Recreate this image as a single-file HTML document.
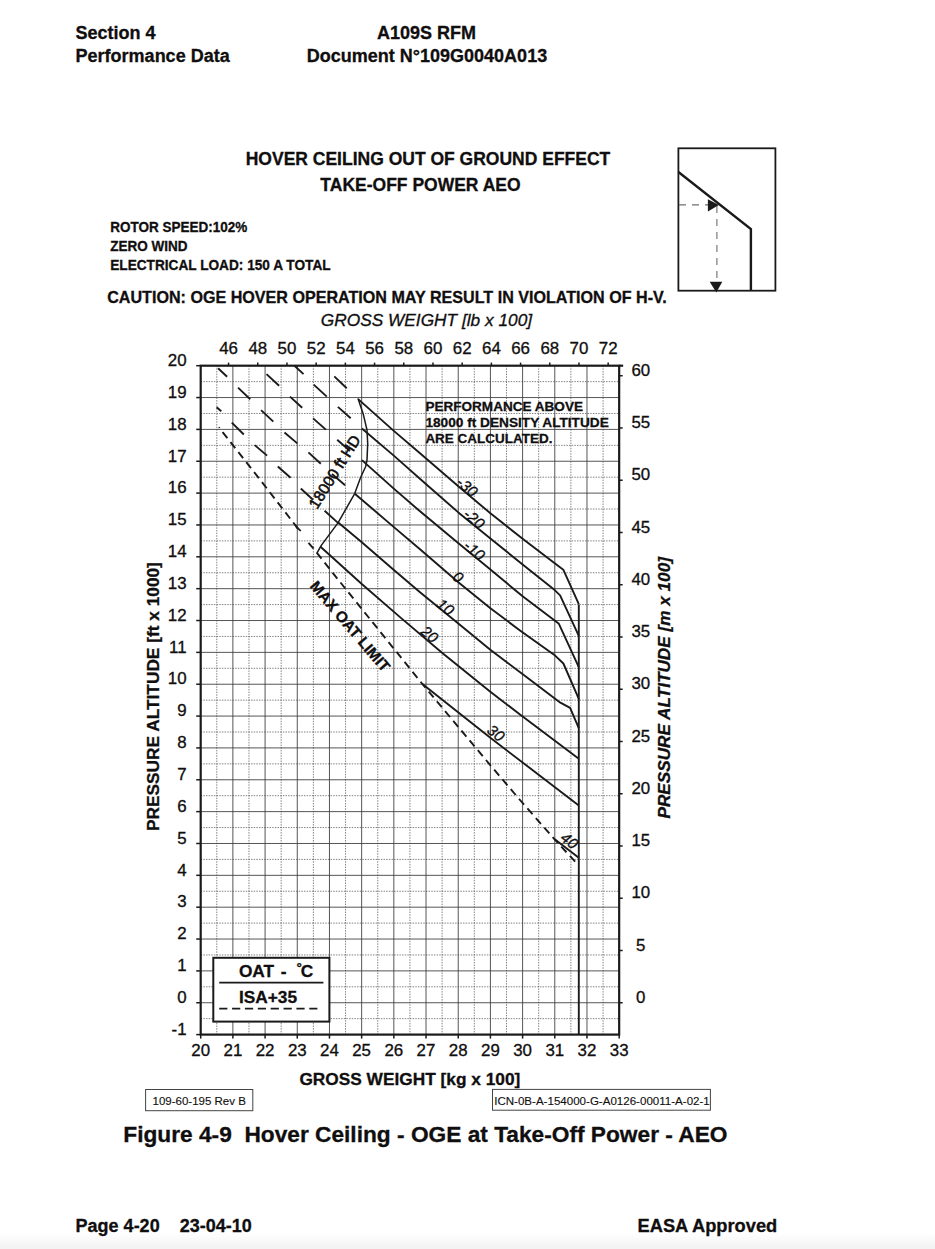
<!DOCTYPE html>
<html lang="en"><head><meta charset="utf-8"><title>Figure 4-9 Hover Ceiling - OGE at Take-Off Power - AEO</title>
<style>
html,body{margin:0;padding:0;background:#fff;}
svg{display:block;}
text{font-family:"Liberation Sans", Arial, Helvetica, sans-serif;fill:#100e0e;stroke:#100e0e;stroke-width:0.3px;}
.mn{stroke:#555;stroke-width:0.75;stroke-dasharray:1.45 1.2;}
.mj{stroke:#383838;stroke-width:0.85;}
.tk{stroke:#1a1a1a;stroke-width:1.5;}
.fr{fill:none;stroke:#1a1a1a;stroke-width:2.2;}
.cv{fill:none;stroke:#1a1a1a;stroke-width:1.9;stroke-linejoin:round;}
.sd{fill:none;stroke:#1a1a1a;stroke-width:1.9;stroke-dasharray:7.7 5.05;}
.ax{font-size:16px;stroke-width:0.3px;}
.lab{font-size:15.2px;font-style:italic;stroke-width:0.3px;}
.hd{font-size:15.6px;stroke-width:0.55px;}
.moat{font-size:15.3px;font-weight:bold;}
.note{font-size:13.55px;font-weight:bold;}
.leg{font-size:17.3px;font-weight:bold;}
.ti{font-size:17.3px;font-style:italic;}
.tb{font-size:17.3px;font-weight:bold;}
.tbi{font-size:17.18px;font-weight:bold;font-style:italic;}
.hdr{font-size:18px;font-weight:bold;}
.ttl{font-size:17.5px;font-weight:bold;}
.sm{font-size:14.3px;font-weight:bold;}
.cau{font-size:16.1px;font-weight:bold;}
.ref{font-size:11.5px;stroke-width:0.12px;}
.fig{font-size:22.6px;font-weight:bold;}
</style></head>
<body>
<svg width="935" height="1249" viewBox="0 0 935 1249">
<defs><linearGradient id="bg" x1="0" y1="0" x2="0" y2="1"><stop offset="0" stop-color="#fff"/><stop offset="1" stop-color="#f2f2f2"/></linearGradient></defs>
<rect width="935" height="1249" fill="#fff"/>
<rect x="0" y="1233" width="935" height="16" fill="url(#bg)"/>
<g id="grid"><line x1="216.79" y1="365.70" x2="216.79" y2="1034.59" class="mn"/>
<line x1="248.98" y1="365.70" x2="248.98" y2="1034.59" class="mn"/>
<line x1="281.17" y1="365.70" x2="281.17" y2="1034.59" class="mn"/>
<line x1="313.37" y1="365.70" x2="313.37" y2="1034.59" class="mn"/>
<line x1="345.55" y1="365.70" x2="345.55" y2="1034.59" class="mn"/>
<line x1="377.75" y1="365.70" x2="377.75" y2="1034.59" class="mn"/>
<line x1="409.93" y1="365.70" x2="409.93" y2="1034.59" class="mn"/>
<line x1="442.12" y1="365.70" x2="442.12" y2="1034.59" class="mn"/>
<line x1="474.31" y1="365.70" x2="474.31" y2="1034.59" class="mn"/>
<line x1="506.50" y1="365.70" x2="506.50" y2="1034.59" class="mn"/>
<line x1="538.69" y1="365.70" x2="538.69" y2="1034.59" class="mn"/>
<line x1="570.88" y1="365.70" x2="570.88" y2="1034.59" class="mn"/>
<line x1="603.08" y1="365.70" x2="603.08" y2="1034.59" class="mn"/>
<line x1="200.70" y1="381.63" x2="619.17" y2="381.63" class="mn"/>
<line x1="200.70" y1="413.48" x2="619.17" y2="413.48" class="mn"/>
<line x1="200.70" y1="445.33" x2="619.17" y2="445.33" class="mn"/>
<line x1="200.70" y1="477.18" x2="619.17" y2="477.18" class="mn"/>
<line x1="200.70" y1="509.03" x2="619.17" y2="509.03" class="mn"/>
<line x1="200.70" y1="540.89" x2="619.17" y2="540.89" class="mn"/>
<line x1="200.70" y1="572.74" x2="619.17" y2="572.74" class="mn"/>
<line x1="200.70" y1="604.59" x2="619.17" y2="604.59" class="mn"/>
<line x1="200.70" y1="636.44" x2="619.17" y2="636.44" class="mn"/>
<line x1="200.70" y1="668.29" x2="619.17" y2="668.29" class="mn"/>
<line x1="200.70" y1="700.15" x2="619.17" y2="700.15" class="mn"/>
<line x1="200.70" y1="732.00" x2="619.17" y2="732.00" class="mn"/>
<line x1="200.70" y1="763.85" x2="619.17" y2="763.85" class="mn"/>
<line x1="200.70" y1="795.70" x2="619.17" y2="795.70" class="mn"/>
<line x1="200.70" y1="827.55" x2="619.17" y2="827.55" class="mn"/>
<line x1="200.70" y1="859.41" x2="619.17" y2="859.41" class="mn"/>
<line x1="200.70" y1="891.26" x2="619.17" y2="891.26" class="mn"/>
<line x1="200.70" y1="923.11" x2="619.17" y2="923.11" class="mn"/>
<line x1="200.70" y1="954.96" x2="619.17" y2="954.96" class="mn"/>
<line x1="200.70" y1="986.81" x2="619.17" y2="986.81" class="mn"/>
<line x1="200.70" y1="1018.67" x2="619.17" y2="1018.67" class="mn"/>
<line x1="232.89" y1="365.70" x2="232.89" y2="1034.59" class="mj"/>
<line x1="265.08" y1="365.70" x2="265.08" y2="1034.59" class="mj"/>
<line x1="297.27" y1="365.70" x2="297.27" y2="1034.59" class="mj"/>
<line x1="329.46" y1="365.70" x2="329.46" y2="1034.59" class="mj"/>
<line x1="361.65" y1="365.70" x2="361.65" y2="1034.59" class="mj"/>
<line x1="393.84" y1="365.70" x2="393.84" y2="1034.59" class="mj"/>
<line x1="426.03" y1="365.70" x2="426.03" y2="1034.59" class="mj"/>
<line x1="458.22" y1="365.70" x2="458.22" y2="1034.59" class="mj"/>
<line x1="490.41" y1="365.70" x2="490.41" y2="1034.59" class="mj"/>
<line x1="522.60" y1="365.70" x2="522.60" y2="1034.59" class="mj"/>
<line x1="554.79" y1="365.70" x2="554.79" y2="1034.59" class="mj"/>
<line x1="586.98" y1="365.70" x2="586.98" y2="1034.59" class="mj"/>
<line x1="200.70" y1="397.55" x2="619.17" y2="397.55" class="mj"/>
<line x1="200.70" y1="429.40" x2="619.17" y2="429.40" class="mj"/>
<line x1="200.70" y1="461.26" x2="619.17" y2="461.26" class="mj"/>
<line x1="200.70" y1="493.11" x2="619.17" y2="493.11" class="mj"/>
<line x1="200.70" y1="524.96" x2="619.17" y2="524.96" class="mj"/>
<line x1="200.70" y1="556.81" x2="619.17" y2="556.81" class="mj"/>
<line x1="200.70" y1="588.66" x2="619.17" y2="588.66" class="mj"/>
<line x1="200.70" y1="620.52" x2="619.17" y2="620.52" class="mj"/>
<line x1="200.70" y1="652.37" x2="619.17" y2="652.37" class="mj"/>
<line x1="200.70" y1="684.22" x2="619.17" y2="684.22" class="mj"/>
<line x1="200.70" y1="716.07" x2="619.17" y2="716.07" class="mj"/>
<line x1="200.70" y1="747.92" x2="619.17" y2="747.92" class="mj"/>
<line x1="200.70" y1="779.78" x2="619.17" y2="779.78" class="mj"/>
<line x1="200.70" y1="811.63" x2="619.17" y2="811.63" class="mj"/>
<line x1="200.70" y1="843.48" x2="619.17" y2="843.48" class="mj"/>
<line x1="200.70" y1="875.33" x2="619.17" y2="875.33" class="mj"/>
<line x1="200.70" y1="907.18" x2="619.17" y2="907.18" class="mj"/>
<line x1="200.70" y1="939.04" x2="619.17" y2="939.04" class="mj"/>
<line x1="200.70" y1="970.89" x2="619.17" y2="970.89" class="mj"/>
<line x1="200.70" y1="1002.74" x2="619.17" y2="1002.74" class="mj"/></g>
<g id="ticks"><line x1="196.20" y1="365.70" x2="200.70" y2="365.70" class="tk"/>
<line x1="196.20" y1="397.55" x2="200.70" y2="397.55" class="tk"/>
<line x1="196.20" y1="429.40" x2="200.70" y2="429.40" class="tk"/>
<line x1="196.20" y1="461.26" x2="200.70" y2="461.26" class="tk"/>
<line x1="196.20" y1="493.11" x2="200.70" y2="493.11" class="tk"/>
<line x1="196.20" y1="524.96" x2="200.70" y2="524.96" class="tk"/>
<line x1="196.20" y1="556.81" x2="200.70" y2="556.81" class="tk"/>
<line x1="196.20" y1="588.66" x2="200.70" y2="588.66" class="tk"/>
<line x1="196.20" y1="620.52" x2="200.70" y2="620.52" class="tk"/>
<line x1="196.20" y1="652.37" x2="200.70" y2="652.37" class="tk"/>
<line x1="196.20" y1="684.22" x2="200.70" y2="684.22" class="tk"/>
<line x1="196.20" y1="716.07" x2="200.70" y2="716.07" class="tk"/>
<line x1="196.20" y1="747.92" x2="200.70" y2="747.92" class="tk"/>
<line x1="196.20" y1="779.78" x2="200.70" y2="779.78" class="tk"/>
<line x1="196.20" y1="811.63" x2="200.70" y2="811.63" class="tk"/>
<line x1="196.20" y1="843.48" x2="200.70" y2="843.48" class="tk"/>
<line x1="196.20" y1="875.33" x2="200.70" y2="875.33" class="tk"/>
<line x1="196.20" y1="907.18" x2="200.70" y2="907.18" class="tk"/>
<line x1="196.20" y1="939.04" x2="200.70" y2="939.04" class="tk"/>
<line x1="196.20" y1="970.89" x2="200.70" y2="970.89" class="tk"/>
<line x1="196.20" y1="1002.74" x2="200.70" y2="1002.74" class="tk"/>
<line x1="196.20" y1="1034.59" x2="200.70" y2="1034.59" class="tk"/>
<line x1="200.70" y1="1034.59" x2="200.70" y2="1038.59" class="tk"/>
<line x1="232.89" y1="1034.59" x2="232.89" y2="1038.59" class="tk"/>
<line x1="265.08" y1="1034.59" x2="265.08" y2="1038.59" class="tk"/>
<line x1="297.27" y1="1034.59" x2="297.27" y2="1038.59" class="tk"/>
<line x1="329.46" y1="1034.59" x2="329.46" y2="1038.59" class="tk"/>
<line x1="361.65" y1="1034.59" x2="361.65" y2="1038.59" class="tk"/>
<line x1="393.84" y1="1034.59" x2="393.84" y2="1038.59" class="tk"/>
<line x1="426.03" y1="1034.59" x2="426.03" y2="1038.59" class="tk"/>
<line x1="458.22" y1="1034.59" x2="458.22" y2="1038.59" class="tk"/>
<line x1="490.41" y1="1034.59" x2="490.41" y2="1038.59" class="tk"/>
<line x1="522.60" y1="1034.59" x2="522.60" y2="1038.59" class="tk"/>
<line x1="554.79" y1="1034.59" x2="554.79" y2="1038.59" class="tk"/>
<line x1="586.98" y1="1034.59" x2="586.98" y2="1038.59" class="tk"/>
<line x1="619.17" y1="1034.59" x2="619.17" y2="1038.59" class="tk"/>
<line x1="228.55" y1="362.60" x2="228.55" y2="365.70" class="tk"/>
<line x1="257.75" y1="362.60" x2="257.75" y2="365.70" class="tk"/>
<line x1="286.96" y1="362.60" x2="286.96" y2="365.70" class="tk"/>
<line x1="316.16" y1="362.60" x2="316.16" y2="365.70" class="tk"/>
<line x1="345.36" y1="362.60" x2="345.36" y2="365.70" class="tk"/>
<line x1="374.56" y1="362.60" x2="374.56" y2="365.70" class="tk"/>
<line x1="403.77" y1="362.60" x2="403.77" y2="365.70" class="tk"/>
<line x1="432.97" y1="362.60" x2="432.97" y2="365.70" class="tk"/>
<line x1="462.17" y1="362.60" x2="462.17" y2="365.70" class="tk"/>
<line x1="491.37" y1="362.60" x2="491.37" y2="365.70" class="tk"/>
<line x1="520.58" y1="362.60" x2="520.58" y2="365.70" class="tk"/>
<line x1="549.78" y1="362.60" x2="549.78" y2="365.70" class="tk"/>
<line x1="578.98" y1="362.60" x2="578.98" y2="365.70" class="tk"/>
<line x1="608.18" y1="362.60" x2="608.18" y2="365.70" class="tk"/>
<line x1="619.17" y1="1002.74" x2="622.67" y2="1002.74" class="tk"/>
<line x1="619.17" y1="950.49" x2="622.67" y2="950.49" class="tk"/>
<line x1="619.17" y1="898.24" x2="622.67" y2="898.24" class="tk"/>
<line x1="619.17" y1="845.99" x2="622.67" y2="845.99" class="tk"/>
<line x1="619.17" y1="793.74" x2="622.67" y2="793.74" class="tk"/>
<line x1="619.17" y1="741.49" x2="622.67" y2="741.49" class="tk"/>
<line x1="619.17" y1="689.24" x2="622.67" y2="689.24" class="tk"/>
<line x1="619.17" y1="636.99" x2="622.67" y2="636.99" class="tk"/>
<line x1="619.17" y1="584.73" x2="622.67" y2="584.73" class="tk"/>
<line x1="619.17" y1="532.48" x2="622.67" y2="532.48" class="tk"/>
<line x1="619.17" y1="480.23" x2="622.67" y2="480.23" class="tk"/>
<line x1="619.17" y1="427.98" x2="622.67" y2="427.98" class="tk"/>
<line x1="619.17" y1="375.73" x2="622.67" y2="375.73" class="tk"/>
<line x1="619.17" y1="365.70" x2="623.17" y2="365.70" class="tk" style="stroke-width:2.2"/></g>
<polyline points="219.0,427.2 222.8,432.3 258.8,478.1 290.5,519.0 300.8,532.3" class="sd" stroke-dashoffset="6.7"/>
<polyline points="308.5,542.8 313.6,548.6 337.4,578.7 422.4,684.0 490.0,764.8 520.0,800.0 554.4,839.1 577.6,864.3" class="sd"/>
<polygon points="293.6,522.6 301.4,530.6 300.2,531.6 296.0,528.0" fill="#1a1a1a"/>
<line x1="216.6" y1="407.2" x2="221.3" y2="411.3" class="cv"/>
<line x1="231.8" y1="422.6" x2="243.8" y2="434.5" class="cv"/>
<line x1="254.7" y1="445.1" x2="267.1" y2="455.6" class="cv"/>
<line x1="277.8" y1="466.5" x2="290.6" y2="477.8" class="cv"/>
<line x1="300.8" y1="488.5" x2="313.0" y2="499.7" class="cv"/>
<line x1="324.6" y1="510.7" x2="338.0" y2="522.9" class="cv"/>
<line x1="218.1" y1="368.3" x2="227.1" y2="376.7" class="cv"/>
<line x1="238.0" y1="387.6" x2="250.2" y2="399.2" class="cv"/>
<line x1="261.1" y1="410.1" x2="273.3" y2="421.6" class="cv"/>
<line x1="284.5" y1="432.5" x2="297.3" y2="443.4" class="cv"/>
<line x1="308.4" y1="452.4" x2="320.8" y2="463.7" class="cv"/>
<line x1="332.0" y1="474.0" x2="345.1" y2="485.3" class="cv"/>
<line x1="266.5" y1="374.1" x2="279.1" y2="385.7" class="cv"/>
<line x1="290.0" y1="396.6" x2="302.2" y2="407.8" class="cv"/>
<line x1="313.1" y1="418.4" x2="325.9" y2="429.6" class="cv"/>
<line x1="337.2" y1="439.8" x2="350.0" y2="451.0" class="cv"/>
<line x1="294.5" y1="365.8" x2="303.5" y2="374.1" class="cv"/>
<line x1="313.7" y1="384.6" x2="326.8" y2="396.6" class="cv"/>
<line x1="337.9" y1="406.9" x2="350.7" y2="418.2" class="cv"/>
<line x1="334.3" y1="376.4" x2="346.7" y2="388.2" class="cv"/>
<polyline points="358.0,398.5 363.2,413.9 367.0,430.0 367.7,443.4 367.0,460.1 365.7,466.5 360.6,477.5 354.7,493.6 338.0,522.9 321.3,545.4 316.9,553.1" class="cv" style="stroke-width:1.5"/>
<polyline points="358.2,399.1 393.5,430.6 420.0,453.2 458.3,486.2 490.4,513.3 522.6,538.7 554.7,563.3 563.3,569.7 578.8,604.2" class="cv"/>
<polyline points="361.9,428.5 393.5,455.4 425.6,483.7 458.3,512.4 490.4,538.4 522.6,564.6 554.7,590.1 560.1,595.4 578.8,635.8" class="cv"/>
<polyline points="361.9,460.1 393.5,488.4 420.0,511.3 454.5,540.0 490.4,569.5 522.6,596.3 554.0,620.0 558.9,623.8 578.8,667.2" class="cv"/>
<polyline points="354.8,493.7 393.6,526.9 420.0,549.3 458.0,582.0 490.4,608.3 520.0,630.4 555.1,655.6 563.4,663.5 578.8,698.9" class="cv"/>
<polyline points="338.2,522.6 361.5,542.0 393.6,569.7 420.0,592.2 458.0,623.2 490.0,649.5 504.2,660.2 530.4,680.0 560.4,702.7 570.1,707.9 578.8,728.1" class="cv"/>
<polyline points="320.2,546.5 329.4,554.7 361.5,583.8 400.0,617.1 441.7,652.4 490.0,691.4 520.0,714.6 578.8,758.8" class="cv"/>
<polyline points="422.4,684.0 490.0,737.6 578.8,805.4" class="cv"/>
<polyline points="554.4,839.1 578.8,857.8" class="cv"/>
<line x1="578.8" y1="604.4" x2="578.8" y2="1034.6" class="cv"/>
<rect x="200.70" y="365.70" width="418.47" height="668.89" class="fr"/>
<text transform="translate(455.3,484.0) rotate(39)" class="lab" >-30</text>
<text transform="translate(462.2,515.9) rotate(39)" class="lab" >-20</text>
<text transform="translate(462.6,547.5) rotate(39)" class="lab" >-10</text>
<text transform="translate(451.6,578.5) rotate(39)" class="lab" >0</text>
<text transform="translate(435.6,605.8) rotate(39)" class="lab" >10</text>
<text transform="translate(419.7,633.1) rotate(39)" class="lab" >20</text>
<text transform="translate(486.0,732.0) rotate(38)" class="lab" >30</text>
<text transform="translate(559.5,839.5) rotate(38)" class="lab" >40</text>
<text transform="translate(317.1,509.9) rotate(-58)" class="hd" >18000 ft HD</text>
<text transform="translate(309.2,586.6) rotate(49.5)" class="moat" >MAX OAT LIMIT</text>
<text x="425.4" y="410.9" class="note" textLength="157.6" lengthAdjust="spacingAndGlyphs">PERFORMANCE ABOVE</text>
<text x="425.4" y="426.9" class="note" textLength="183.4" lengthAdjust="spacingAndGlyphs">18000 ft DENSITY ALTITUDE</text>
<text x="425.4" y="442.9" class="note" textLength="127.0" lengthAdjust="spacingAndGlyphs">ARE CALCULATED.</text>
<rect x="213.3" y="957.8" width="116.1" height="63.8" fill="#fff" stroke="#1a1a1a" stroke-width="2"/>
<text x="238.9" y="976.8" class="leg">OAT</text>
<text x="280.7" y="976.8" class="leg">-</text>
<text x="296.8" y="976.0" class="leg">˚</text>
<text x="300.8" y="976.8" class="leg">C</text>
<line x1="219.2" y1="982.7" x2="323.4" y2="982.7" stroke="#1a1a1a" stroke-width="1.8"/>
<text x="238.9" y="1002.6" class="leg">ISA+35</text>
<line x1="219.2" y1="1008.7" x2="317.4" y2="1008.7" stroke="#1a1a1a" stroke-width="1.8" stroke-dasharray="8.2 4.67"/>
<text transform="translate(186.6,365.9) scale(1.055,1)" class="ax" text-anchor="end">20</text>
<text transform="translate(186.6,397.8) scale(1.055,1)" class="ax" text-anchor="end">19</text>
<text transform="translate(186.6,429.6) scale(1.055,1)" class="ax" text-anchor="end">18</text>
<text transform="translate(186.6,461.5) scale(1.055,1)" class="ax" text-anchor="end">17</text>
<text transform="translate(186.6,493.3) scale(1.055,1)" class="ax" text-anchor="end">16</text>
<text transform="translate(186.6,525.2) scale(1.055,1)" class="ax" text-anchor="end">15</text>
<text transform="translate(186.6,557.0) scale(1.055,1)" class="ax" text-anchor="end">14</text>
<text transform="translate(186.6,588.9) scale(1.055,1)" class="ax" text-anchor="end">13</text>
<text transform="translate(186.6,620.7) scale(1.055,1)" class="ax" text-anchor="end">12</text>
<text transform="translate(186.6,652.6) scale(1.055,1)" class="ax" text-anchor="end">11</text>
<text transform="translate(186.6,684.4) scale(1.055,1)" class="ax" text-anchor="end">10</text>
<text transform="translate(186.6,716.3) scale(1.055,1)" class="ax" text-anchor="end">9</text>
<text transform="translate(186.6,748.1) scale(1.055,1)" class="ax" text-anchor="end">8</text>
<text transform="translate(186.6,780.0) scale(1.055,1)" class="ax" text-anchor="end">7</text>
<text transform="translate(186.6,811.8) scale(1.055,1)" class="ax" text-anchor="end">6</text>
<text transform="translate(186.6,843.7) scale(1.055,1)" class="ax" text-anchor="end">5</text>
<text transform="translate(186.6,875.5) scale(1.055,1)" class="ax" text-anchor="end">4</text>
<text transform="translate(186.6,907.4) scale(1.055,1)" class="ax" text-anchor="end">3</text>
<text transform="translate(186.6,939.2) scale(1.055,1)" class="ax" text-anchor="end">2</text>
<text transform="translate(186.6,971.1) scale(1.055,1)" class="ax" text-anchor="end">1</text>
<text transform="translate(186.6,1002.9) scale(1.055,1)" class="ax" text-anchor="end">0</text>
<text transform="translate(186.6,1034.8) scale(1.055,1)" class="ax" text-anchor="end">-1</text>
<text transform="translate(200.7,1055.8) scale(1.055,1)" class="ax" text-anchor="middle">20</text>
<text transform="translate(232.9,1055.8) scale(1.055,1)" class="ax" text-anchor="middle">21</text>
<text transform="translate(265.1,1055.8) scale(1.055,1)" class="ax" text-anchor="middle">22</text>
<text transform="translate(297.3,1055.8) scale(1.055,1)" class="ax" text-anchor="middle">23</text>
<text transform="translate(329.5,1055.8) scale(1.055,1)" class="ax" text-anchor="middle">24</text>
<text transform="translate(361.6,1055.8) scale(1.055,1)" class="ax" text-anchor="middle">25</text>
<text transform="translate(393.8,1055.8) scale(1.055,1)" class="ax" text-anchor="middle">26</text>
<text transform="translate(426.0,1055.8) scale(1.055,1)" class="ax" text-anchor="middle">27</text>
<text transform="translate(458.2,1055.8) scale(1.055,1)" class="ax" text-anchor="middle">28</text>
<text transform="translate(490.4,1055.8) scale(1.055,1)" class="ax" text-anchor="middle">29</text>
<text transform="translate(522.6,1055.8) scale(1.055,1)" class="ax" text-anchor="middle">30</text>
<text transform="translate(554.8,1055.8) scale(1.055,1)" class="ax" text-anchor="middle">31</text>
<text transform="translate(587.0,1055.8) scale(1.055,1)" class="ax" text-anchor="middle">32</text>
<text transform="translate(619.2,1055.8) scale(1.055,1)" class="ax" text-anchor="middle">33</text>
<text transform="translate(228.6,353.6) scale(1.055,1)" class="ax" text-anchor="middle">46</text>
<text transform="translate(257.8,353.6) scale(1.055,1)" class="ax" text-anchor="middle">48</text>
<text transform="translate(287.0,353.6) scale(1.055,1)" class="ax" text-anchor="middle">50</text>
<text transform="translate(316.2,353.6) scale(1.055,1)" class="ax" text-anchor="middle">52</text>
<text transform="translate(345.4,353.6) scale(1.055,1)" class="ax" text-anchor="middle">54</text>
<text transform="translate(374.6,353.6) scale(1.055,1)" class="ax" text-anchor="middle">56</text>
<text transform="translate(403.8,353.6) scale(1.055,1)" class="ax" text-anchor="middle">58</text>
<text transform="translate(433.0,353.6) scale(1.055,1)" class="ax" text-anchor="middle">60</text>
<text transform="translate(462.2,353.6) scale(1.055,1)" class="ax" text-anchor="middle">62</text>
<text transform="translate(491.4,353.6) scale(1.055,1)" class="ax" text-anchor="middle">64</text>
<text transform="translate(520.6,353.6) scale(1.055,1)" class="ax" text-anchor="middle">66</text>
<text transform="translate(549.8,353.6) scale(1.055,1)" class="ax" text-anchor="middle">68</text>
<text transform="translate(579.0,353.6) scale(1.055,1)" class="ax" text-anchor="middle">70</text>
<text transform="translate(608.2,353.6) scale(1.055,1)" class="ax" text-anchor="middle">72</text>
<text transform="translate(640.8,1002.9) scale(1.055,1)" class="ax" text-anchor="middle">0</text>
<text transform="translate(640.8,950.7) scale(1.055,1)" class="ax" text-anchor="middle">5</text>
<text transform="translate(640.8,898.4) scale(1.055,1)" class="ax" text-anchor="middle">10</text>
<text transform="translate(640.8,846.2) scale(1.055,1)" class="ax" text-anchor="middle">15</text>
<text transform="translate(640.8,793.9) scale(1.055,1)" class="ax" text-anchor="middle">20</text>
<text transform="translate(640.8,741.7) scale(1.055,1)" class="ax" text-anchor="middle">25</text>
<text transform="translate(640.8,689.4) scale(1.055,1)" class="ax" text-anchor="middle">30</text>
<text transform="translate(640.8,637.2) scale(1.055,1)" class="ax" text-anchor="middle">35</text>
<text transform="translate(640.8,584.9) scale(1.055,1)" class="ax" text-anchor="middle">40</text>
<text transform="translate(640.8,532.7) scale(1.055,1)" class="ax" text-anchor="middle">45</text>
<text transform="translate(640.8,480.4) scale(1.055,1)" class="ax" text-anchor="middle">50</text>
<text transform="translate(640.8,428.2) scale(1.055,1)" class="ax" text-anchor="middle">55</text>
<text transform="translate(640.8,375.9) scale(1.055,1)" class="ax" text-anchor="middle">60</text>
<text x="320.8" y="325.8" class="ti">GROSS WEIGHT [lb x 100]</text>
<text x="299.4" y="1084.8" class="tb">GROSS WEIGHT [kg x 100]</text>
<text transform="translate(159.3,831) rotate(-90)" class="tb">PRESSURE ALTITUDE [ft x 1000]</text>
<text transform="translate(670.3,818.5) rotate(-90)" class="tbi">PRESSURE ALTITUDE [m x 100]</text>
<text x="75.6" y="39.3" class="hdr">Section 4</text>
<text x="75.6" y="61.9" class="hdr">Performance Data</text>
<text x="426.5" y="39.3" class="hdr" text-anchor="middle">A109S RFM</text>
<text x="427" y="61.9" class="hdr" text-anchor="middle">Document N°109G0040A013</text>
<text x="428" y="164.9" class="ttl" text-anchor="middle">HOVER CEILING OUT OF GROUND EFFECT</text>
<text x="420.5" y="191.2" class="ttl" text-anchor="middle">TAKE-OFF POWER AEO</text>
<text x="110.2" y="232.1" class="sm" textLength="137" lengthAdjust="spacingAndGlyphs">ROTOR SPEED:102%</text>
<text x="110.2" y="250.8" class="sm" textLength="77.3" lengthAdjust="spacingAndGlyphs">ZERO WIND</text>
<text x="110.2" y="269.9" class="sm" textLength="220.4" lengthAdjust="spacingAndGlyphs">ELECTRICAL LOAD: 150 A TOTAL</text>
<text x="107.2" y="302.8" class="cau" textLength="559.6" lengthAdjust="spacingAndGlyphs">CAUTION: OGE HOVER OPERATION MAY RESULT IN VIOLATION OF H-V.</text>
<rect x="678.4" y="148.3" width="97" height="142.4" fill="none" stroke="#1a1a1a" stroke-width="1.8"/>
<polyline points="678.4,172 750.9,229 750.9,290.7" fill="none" stroke="#1a1a1a" stroke-width="2.4" stroke-linejoin="miter"/>
<line x1="679" y1="204.9" x2="708" y2="204.9" stroke="#6e6e6e" stroke-width="1.1" stroke-dasharray="7 6"/>
<line x1="716.9" y1="206" x2="716.9" y2="282" stroke="#6e6e6e" stroke-width="1.1" stroke-dasharray="7 6"/>
<polygon points="707.9,199.2 707.9,211.6 718.9,205" fill="#1a1a1a"/>
<polygon points="709.7,281.7 722.3,281.7 716.3,292.4" fill="#1a1a1a"/>
<rect x="145.6" y="1089.5" width="107.2" height="21.2" fill="#fff" stroke="#444" stroke-width="1"/>
<text x="152.5" y="1105.2" class="ref">109-60-195 Rev B</text>
<rect x="492.5" y="1089.4" width="217.9" height="20.8" fill="#fff" stroke="#444" stroke-width="1"/>
<text x="494.2" y="1105" class="ref" textLength="215.6" lengthAdjust="spacingAndGlyphs">ICN-0B-A-154000-G-A0126-00011-A-02-1</text>
<text x="123.3" y="1142.3" class="fig" xml:space="preserve" style="white-space:pre" textLength="604.2" lengthAdjust="spacingAndGlyphs">Figure 4-9  Hover Ceiling - OGE at Take-Off Power - AEO</text>
<text x="75.6" y="1231.5" class="hdr" xml:space="preserve" style="white-space:pre">Page 4-20    23-04-10</text>
<text x="777.2" y="1231.5" class="hdr" text-anchor="end" style="font-size:18.25px">EASA Approved</text>
</svg>
</body></html>
